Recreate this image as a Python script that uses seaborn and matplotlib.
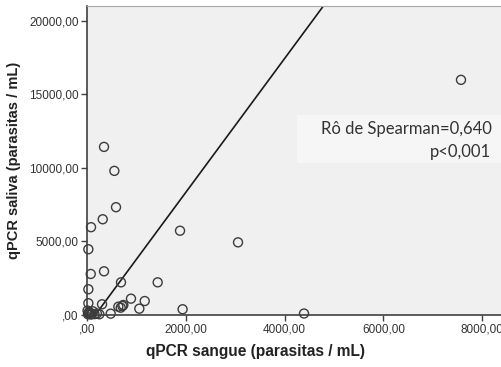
import numpy as np
import pandas as pd
import matplotlib
matplotlib.use("Agg")
import matplotlib.pyplot as plt
import matplotlib.ticker as mticker
import seaborn as sns

# qPCR values (parasitas / mL)
sangue = [7571, 344, 553, 587, 318, 81, 27, 1883, 3057, 75, 344, 27, 688, 1430,
          27, 304, 890, 1168, 1059, 1935, 479, 634, 715, 735, 682, 4393,
          10, 40, 60, 100, 150, 200, 250, 20, 120, 80, 30]
saliva = [15990, 11430, 9800, 7330, 6510, 5970, 4470, 5730, 4940, 2790, 2970, 1750, 2220, 2220,
          800, 730, 1110, 950, 430, 390, 90, 565, 612, 680, 497, 100,
          300, 200, 150, 80, 60, 100, 50, 50, 250, 30, 120]

# fit line shown in the chart
fit_slope = 4.55
fit_intercept = -760

x_ticks = [0, 2000, 4000, 6000, 8000]
y_ticks = [0, 5000, 10000, 15000, 20000]

df = pd.DataFrame({"sangue": sangue, "saliva": saliva})

sns.set_style("white")
plt.rcParams["font.family"] = ["Liberation Sans", "DejaVu Sans"]

fig = plt.figure(figsize=(5.01, 3.67), dpi=100)
ax = fig.add_axes([0.1737, 0.1417, 0.8263, 0.8423])
ax.set_facecolor("#f0f0f0")

sns.scatterplot(data=df, x="sangue", y="saliva", ax=ax, marker="o", s=42,
                facecolor="none", edgecolor="#3c3c3c", linewidth=1.0, clip_on=False, zorder=3)

xs = np.linspace(0, 8400, 50)
ax.plot(xs, fit_intercept + fit_slope * xs, color="#1a1a1a", linewidth=1.2, zorder=2)

ax.set_xlim(0, 8381)
ax.set_ylim(0, 21020)
ax.set_xticks(x_ticks)
ax.set_yticks(y_ticks)
fmt = mticker.FuncFormatter(lambda v, p: (",00" if v == 0 else f"{v:.2f}".replace(".", ",")))
ax.xaxis.set_major_formatter(fmt)
ax.yaxis.set_major_formatter(fmt)
ax.tick_params(axis="both", direction="out", length=4, width=1, color="#404040",
               labelsize=8.5, labelcolor="#333333", pad=2, bottom=True, left=True)

for side in ["left", "bottom"]:
    ax.spines[side].set_color("#404040")
    ax.spines[side].set_linewidth(1.2)
ax.spines["top"].set_color("#a8a8a8")
ax.spines["right"].set_visible(False)

ax.set_xlabel("qPCR sangue (parasitas / mL)", fontsize=11.2, fontweight="bold",
              color="#222222", labelpad=8)
ax.xaxis.set_label_coords(0.406, -0.095)
ax.set_ylabel("qPCR saliva (parasitas / mL)", fontsize=10.5, fontweight="bold",
              color="#222222", labelpad=6)

ax.add_patch(plt.Rectangle((0.507, 0.492), 0.5, 0.155, transform=ax.transAxes,
                           facecolor="#f6f6f6", edgecolor="none", zorder=1))
ax.text(0.977, 0.565, "Rô de Spearman=0,640\np<0,001", transform=ax.transAxes,
        ha="right", va="center", fontsize=12, color="#333333", linespacing=1.5,
        family=["Lato", "DejaVu Sans"], zorder=4)

fig.savefig("out.png", dpi=100)
plt.close()
